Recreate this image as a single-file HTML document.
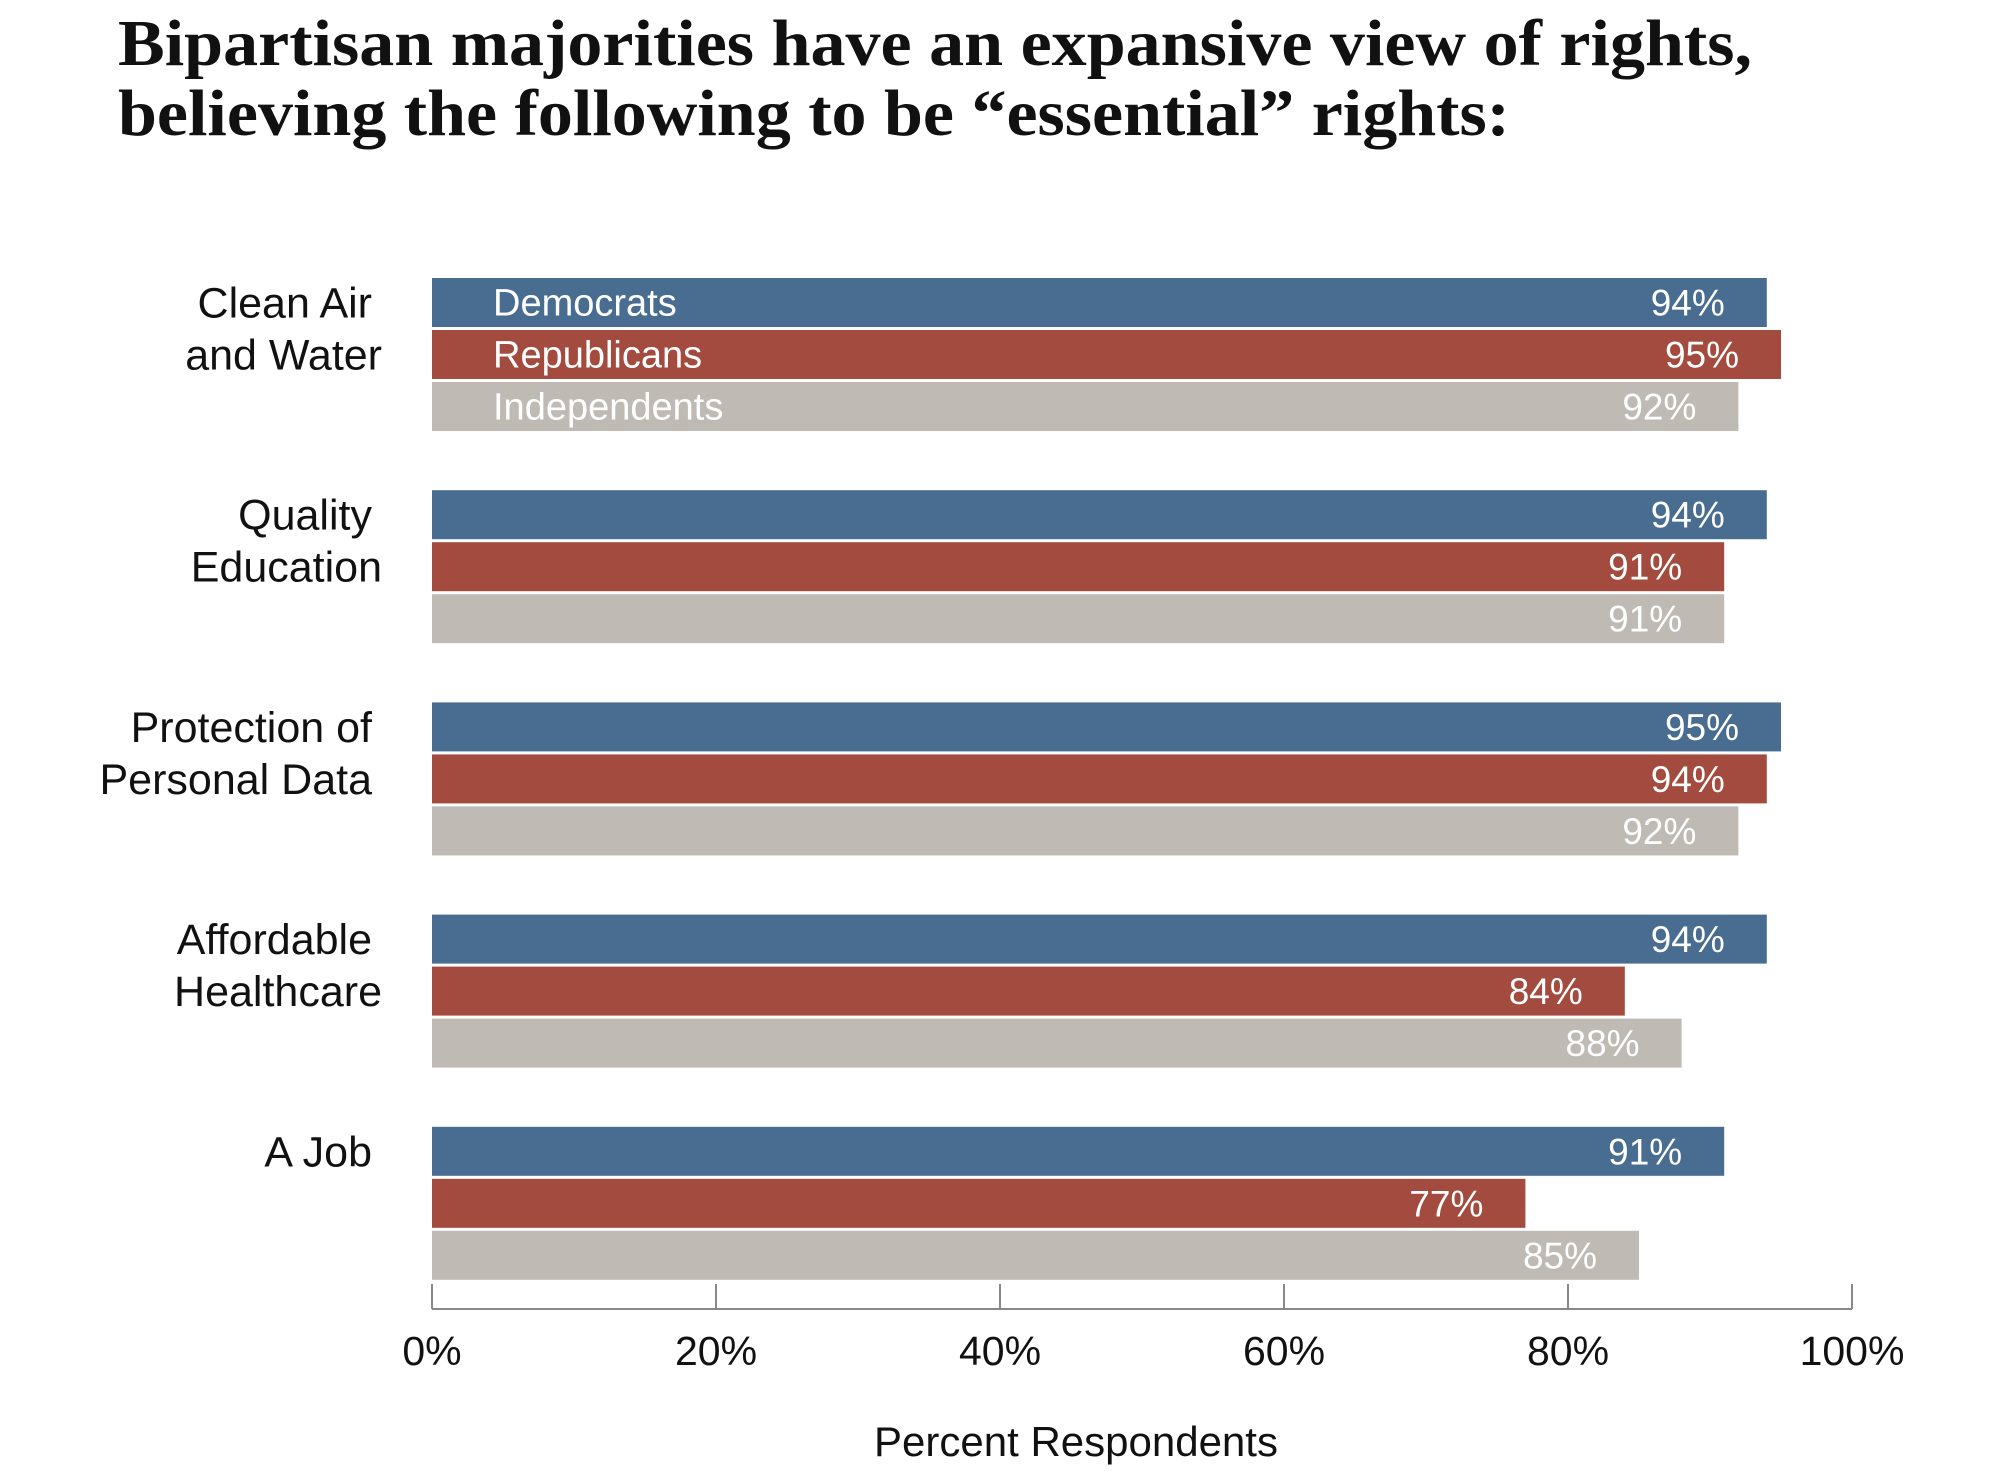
<!DOCTYPE html>
<html><head><meta charset="utf-8"><style>
html,body{margin:0;padding:0;background:#fff;}
svg{display:block;}
</style></head><body>
<svg id="chart" width="2000" height="1472" viewBox="0 0 2000 1472" xmlns="http://www.w3.org/2000/svg">
<g font-family="Liberation Serif, serif" font-weight="bold" font-size="66" fill="#111">
<text x="118" y="65" textLength="1634" lengthAdjust="spacingAndGlyphs">Bipartisan majorities have an expansive view of rights,</text>
<text x="118" y="135" textLength="1392" lengthAdjust="spacingAndGlyphs">believing the following to be “essential” rights:</text>
</g>
<g id="bars"></g>
<g id="axis"></g>
<text x="1076" y="1456" font-family="Liberation Sans, sans-serif" font-size="42" text-anchor="middle" fill="#111">Percent Respondents</text>
</svg>
<script>
const categories = [["Clean Air ", "and Water"], ["Quality ", "Education"], ["Protection of ", "Personal Data "], ["Affordable ", "Healthcare"], ["A Job "]];
const democrats = [94, 94, 95, 94, 91];
const republicans = [95, 91, 94, 84, 77];
const independents = [92, 91, 92, 88, 85];
const seriesNames = ["Democrats", "Republicans", "Independents"];
const tickValues = [0, 20, 40, 60, 80, 100];
const tickLabels = ["0%", "20%", "40%", "60%", "80%", "100%"];

const NS = "http://www.w3.org/2000/svg";
const x0 = 432, x1 = 1852;
const xScale = v => x0 + (x1 - x0) * v / 100;
const groupTop = i => 278 + i * 212.2;
const barH = 49, barPitch = 52;
const colors = ["#486d91", "#a34b3e", "#bfbab4"];
const series = [democrats, republicans, independents];
const bars = document.getElementById('bars');
const axis = document.getElementById('axis');
function mk(tag, attrs, parent) {
  const e = document.createElementNS(NS, tag);
  for (const k in attrs) e.setAttribute(k, attrs[k]);
  parent.appendChild(e);
  return e;
}
categories.forEach((cat, i) => {
  const gt = groupTop(i);
  cat.forEach((line, j) => {
    const t = mk('text', {x: 382, y: gt + j * barPitch + barH / 2 + 15, 'text-anchor': 'end', 'font-family': 'Liberation Sans, sans-serif', 'font-size': 43, fill: '#111'}, bars);
    
    
    t.textContent = line.trim();
    if (line.endsWith(' ')) t.setAttribute('x', 372);
  });
  series.forEach((s, k) => {
    const y = gt + k * barPitch;
    const r = mk('rect', {x: xScale(0), y: y, width: xScale(s[i]) - xScale(0), height: barH, fill: colors[k]}, bars);
    
    
    const v = mk('text', {x: xScale(s[i]) - 42, y: y + barH / 2 + 13, 'text-anchor': 'end', 'font-family': 'Liberation Sans, sans-serif', 'font-size': 37, fill: '#fff'}, bars);
    
    
    v.textContent = s[i] + '%';
    if (i === 0) {
      const n = mk('text', {x: 493, y: y + barH / 2 + 13, 'font-family': 'Liberation Sans, sans-serif', 'font-size': 38, fill: '#fff'}, bars);
      
      
      n.textContent = seriesNames[k];
    }
  });
});
const al = mk('line', {x1: x0, x2: x1, y1: 1309, y2: 1309, stroke: '#888', 'stroke-width': 2}, axis);


tickValues.forEach((tv, i) => {
  const tk = mk('line', {x1: xScale(tv), x2: xScale(tv), y1: 1284, y2: 1309, stroke: '#888', 'stroke-width': 2}, axis);
  
  
  const tl = mk('text', {x: xScale(tv), y: 1365, 'text-anchor': 'middle', 'font-family': 'Liberation Sans, sans-serif', 'font-size': 41, fill: '#111'}, axis);
  
  
  tl.textContent = tickLabels[i];
});
</script>
</body></html>
